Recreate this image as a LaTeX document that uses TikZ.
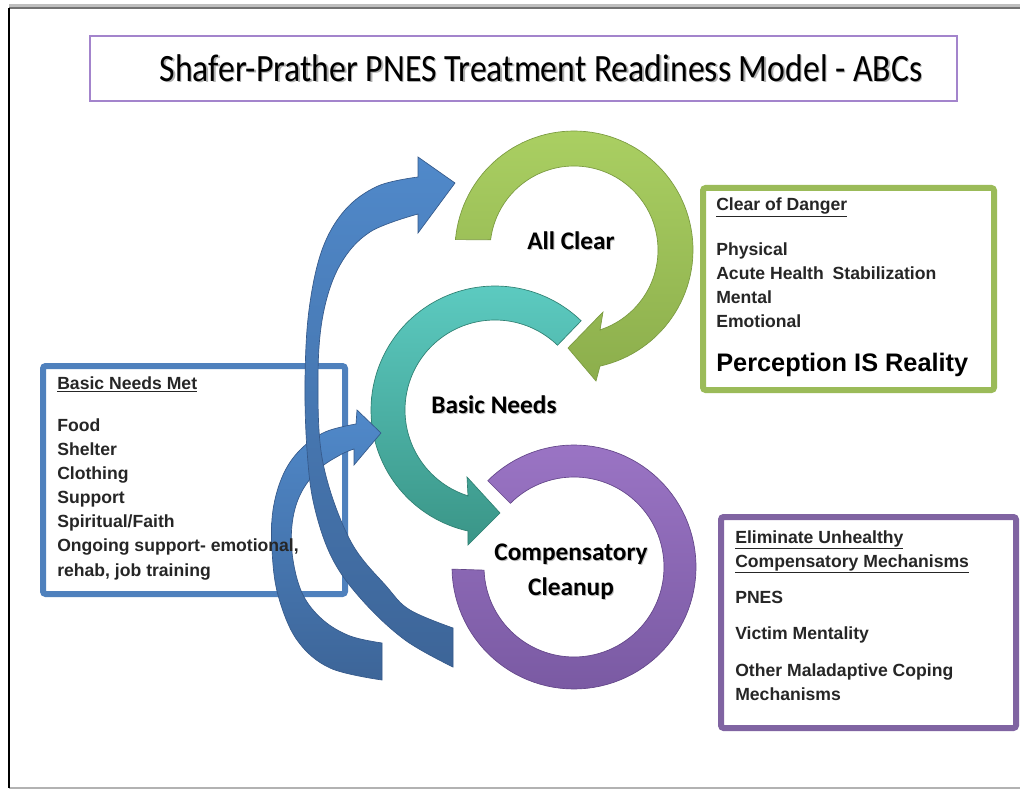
\documentclass[tikz,border=0pt]{standalone}
\usepackage{fontspec}
\setmainfont{Liberation Sans}
\newfontfamily\calfont{Carlito}
\definecolor{txtgray}{HTML}{262626}
\definecolor{gtop}{HTML}{AACF62}
\definecolor{gbot}{HTML}{8CAE4C}
\definecolor{gedge}{HTML}{7A9A40}
\definecolor{ttop}{HTML}{5CCAC0}
\definecolor{tbot}{HTML}{3A9587}
\definecolor{tedge}{HTML}{2F8072}
\definecolor{ptop}{HTML}{9A74C4}
\definecolor{pbot}{HTML}{7A5AA3}
\definecolor{pedge}{HTML}{634689}
\definecolor{btop}{HTML}{5089CA}
\definecolor{bbot}{HTML}{3D6598}
\definecolor{bedge}{HTML}{35598A}
\definecolor{boxgreen}{HTML}{9BBB59}
\definecolor{boxpurple}{HTML}{8064A2}
\definecolor{boxblue}{HTML}{4F81BD}
\definecolor{titleline}{HTML}{A384CC}
\begin{document}
\begin{tikzpicture}[x=0.75pt,y=-0.75pt,
  bt/.style={anchor=base west,inner sep=0pt,text=txtgray,font=\fontsize{13.2}{16}\selectfont\bfseries},
  lbl/.style={inner sep=0pt,align=center,font=\calfont\bfseries\fontsize{19}{26}\selectfont},
  lblshadow/.style={lbl,text=black!25},
  boxframe/.style={rounded corners=2pt,line width=4.5pt},
  ring/.style={line width=0.5pt}
]
\fill[white] (0,0) rectangle (1020,791);
\useasboundingbox (0,0) rectangle (1020,791);
% outer frame
\draw[black!25,line width=3pt] (9,6) -- (1020,6);
\draw[black!55,line width=1.2pt] (9,8) -- (1020,8);
\draw[black!30,line width=1.5pt] (9,788) -- (1020,788);
\draw[black,line width=1.6pt] (9,8) -- (9,788);
% title
\draw[titleline,line width=1.1pt] (90,36) rectangle (957,101);
\node[inner sep=0pt,text=black!30] (titles) at (542.5,69.5) {\scalebox{0.873}[1]{\calfont\fontsize{29}{31}\selectfont Shafer-Prather PNES Treatment Readiness Model - ABCs}};
\node[inner sep=0pt] (title) at (541,68) {\scalebox{0.873}[1]{\calfont\fontsize{29}{31}\selectfont Shafer-Prather PNES Treatment Readiness Model - ABCs}};
% boxes
\draw[boxframe,draw=boxgreen] (703,188) rectangle (994,390);
\draw[boxframe,draw=boxpurple] (721,517) rectangle (1016,728);
\draw[boxframe,draw=boxblue] (43,366) rectangle (345,594);
% green ring (All Clear)
\shadedraw[ring,top color=gtop,bottom color=gbot,draw=gedge]
  plot[domain=185:437.4,samples=90] ({574+119*cos(\x)},{250+119*sin(\x)})
  -- (596,381) -- (568,348) -- (603,312) -- (600,330)
  -- plot[domain=432:187,samples=90] ({574+84*cos(\x)},{250+84*sin(\x)}) -- cycle;
% purple ring (Compensatory Cleanup)
\shadedraw[ring,top color=ptop,bottom color=pbot,draw=pedge]
  plot[domain=225:539,samples=100] ({574+122*cos(\x)},{567+122*sin(\x)})
  -- plot[domain=538:225,samples=100] ({574+90*cos(\x)},{567+90*sin(\x)}) -- cycle;
% teal ring (Basic Needs)
\shadedraw[ring,top color=ttop,bottom color=tbot,draw=tedge]
  plot[domain=-46:-257.4,samples=90] ({495+124*cos(\x)},{410+124*sin(\x)})
  -- (468,545) -- (500,513) -- (467,477) -- (468,496)
  -- plot[domain=-252.6:-46,samples=90] ({495+90*cos(\x)},{410+90*sin(\x)}) -- cycle;
% small blue arrow
\shadedraw[ring,top color=btop,bottom color=bbot,draw=bedge]
  (382,643) -- plot[smooth,tension=0.6] coordinates {(382,643) (350,636) (323,620) (303,595) (293,560) (292,525) (300,495) (318,470) (340,455) (354,449)}
  -- (354,465) -- (381,433) -- (357,410) -- (356,424)
  -- plot[smooth,tension=0.6] coordinates {(356,424) (325,432) (300,450) (283,475) (273,510) (272,550) (278,595) (297,640) (330,668) (382,680)} -- cycle;
% big blue arrow
\shadedraw[ring,top color=btop,bottom color=bbot,draw=bedge]
  (453,628) -- plot[smooth,tension=0.6] coordinates {(453,628) (410,610) (387,587) (350,540) (323,463) (318,380) (323,315) (340,265) (370,232) (418,214)}
  -- (418,233) -- (455,183) -- (418,157) -- (418,177)
  -- plot[smooth,tension=0.6] coordinates {(418,177) (378,186) (345,210) (322,250) (309,310) (305,380) (307,450) (314,505) (332,558) (362,600) (405,640) (453,667)} -- cycle;
% ring labels
\node[lblshadow] (acs) at (572,242) {All Clear};
\node[lbl] (ac) at (571,241) {All Clear};
\node[lblshadow] (bns) at (495,406) {Basic Needs};
\node[lbl] (bn) at (494,405) {Basic Needs};
\node[lblshadow] (ccs) at (572,572.5) {Compensatory\\Cleanup};
\node[lbl] (cc) at (571,571.5) {Compensatory\\Cleanup};
% blue box text
\node[bt] (b0) at (57,389) {\underline{Basic Needs Met}};
\node[bt] (b1) at (57,431) {Food};
\node[bt] (b2) at (57,455) {Shelter};
\node[bt] (b3) at (57,479) {Clothing};
\node[bt] (b4) at (57,503) {Support};
\node[bt] (b5) at (57,527) {Spiritual/Faith};
\node[bt] (b6) at (57,551) {Ongoing support- emotional,};
\node[bt] (b7) at (57,576) {rehab, job training};
% green box text
\node[bt] (g0) at (716,211) {\underline{Clear of Danger}};
\node[bt] (g1) at (716,256) {Physical};
\node[bt] (g2) at (716,280) {Acute Health\hspace{3pt} Stabilization};
\node[bt] (g3) at (716,304) {Mental};
\node[bt] (g4) at (716,328) {Emotional};
\node[bt,text=black,font=\fontsize{19}{22}\selectfont\bfseries] (g5) at (716,371) {Perception IS Reality};
% purple box text
\node[bt] (p0) at (735,543) {\underline{Eliminate Unhealthy}};
\node[bt] (p1) at (735,567) {\underline{Compensatory Mechanisms}};
\node[bt] (p2) at (735,603) {PNES};
\node[bt] (p3) at (735,639) {Victim Mentality};
\node[bt] (p4) at (735,676) {Other Maladaptive Coping};
\node[bt] (p5) at (735,700) {Mechanisms};
\end{tikzpicture}
\end{document}
